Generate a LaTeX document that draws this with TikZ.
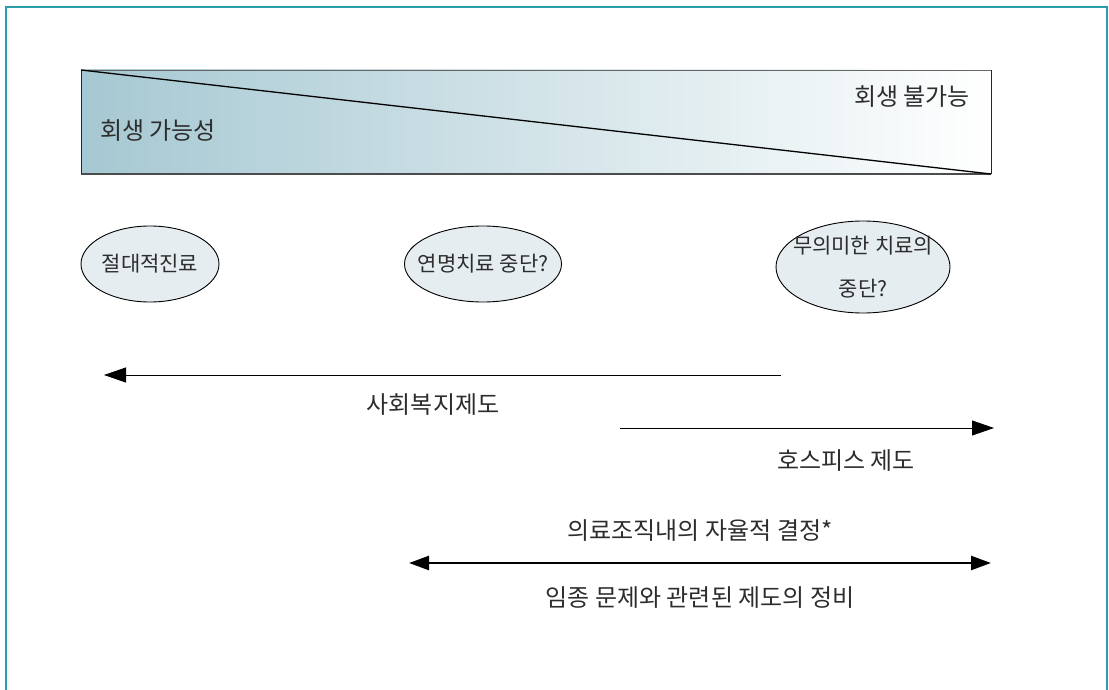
\documentclass[tikz,border=0pt]{standalone}
\usepackage{fontspec}
\setmainfont{Noto Sans CJK KR}
\usetikzlibrary{arrows.meta,shapes.geometric}
\definecolor{frameteal}{RGB}{42,158,170}
\definecolor{gradleft}{RGB}{166,200,210}
\definecolor{ellfill}{RGB}{229,237,240}
\definecolor{txt}{RGB}{45,45,45}
\tikzset{
  lbl/.style={font=\fontsize{24}{28}\selectfont, text=txt, inner sep=0pt},
  bubble/.style={ellipse, draw=black, line width=0.9pt, fill=ellfill, inner sep=0pt},
  bubbletext/.style={font=\fontsize{21}{43}\selectfont, text=txt, align=center, inner sep=0pt},
  thinarrow/.style={line width=0.9pt, -{Triangle[length=22pt,width=15pt]}},
  thickarrow/.style={line width=2.6pt, {Triangle[length=20pt,width=14pt]}-{Triangle[length=20pt,width=14pt]}},
}
\begin{document}
\begin{tikzpicture}[x=1pt,y=-1pt]
\useasboundingbox (0,0) rectangle (1109,690);
% outer frame
\draw[frameteal, line width=1.6pt] (6,700) -- (6,7) -- (1107,7) -- (1107,700);
% gradient bar
\shade[left color=gradleft, right color=white] (81,70) rectangle (991,174);
\coordinate (bartl) at (81,70);
\coordinate (bartr) at (991,70);
\coordinate (barbl) at (81,174);
\coordinate (barbr) at (991,174);
\draw[black!60, line width=0.9pt] (bartl) -- (bartr);
\draw[black!70, line width=1.8pt] (barbl) -- (barbr);
\draw[black!85, line width=0.9pt] (bartl) -- (barbl);
\draw[black!85, line width=0.9pt] (bartr) -- (barbr);
\draw[black, line width=1.3pt] (bartl) -- (barbr);
\node[lbl, anchor=west] (possible) at (100,131) {회생 가능성};
\node[lbl, anchor=east] (impossible) at (970,97) {회생 불가능};
% ellipses
\node[bubble, minimum width=138pt, minimum height=76pt] (e1) at (150,264) {};
\node[bubbletext] (t1) at (e1.center) {절대적진료};
\node[bubble, minimum width=157pt, minimum height=76pt] (e2) at (483,264) {};
\node[bubbletext] (t2) at (e2.center) {연명치료 중단?};
\node[bubble, minimum width=174pt, minimum height=92pt] (e3) at (863,267) {};
\node[bubbletext] (t3) at (e3.center) {무의미한 치료의\\중단?};
% arrows
\coordinate (a1s) at (781,375);
\coordinate (a1e) at (104,375);
\draw[thinarrow] (a1s) -- (a1e);
\node[lbl] (welfare) at (433,405) {사회복지제도};
\coordinate (a2s) at (620,428);
\coordinate (a2e) at (994,428);
\draw[thinarrow] (a2s) -- (a2e);
\node[lbl] (hospice) at (846,461) {호스피스 제도};
\node[lbl] (auto) at (700,531) {의료조직내의 자율적 결정*};
\coordinate (a3s) at (409,563);
\coordinate (a3e) at (991,563);
\draw[thickarrow] (a3s) -- (a3e);
\node[lbl] (reform) at (700,598) {임종 문제와 관련된 제도의 정비};
\end{tikzpicture}
\end{document}
